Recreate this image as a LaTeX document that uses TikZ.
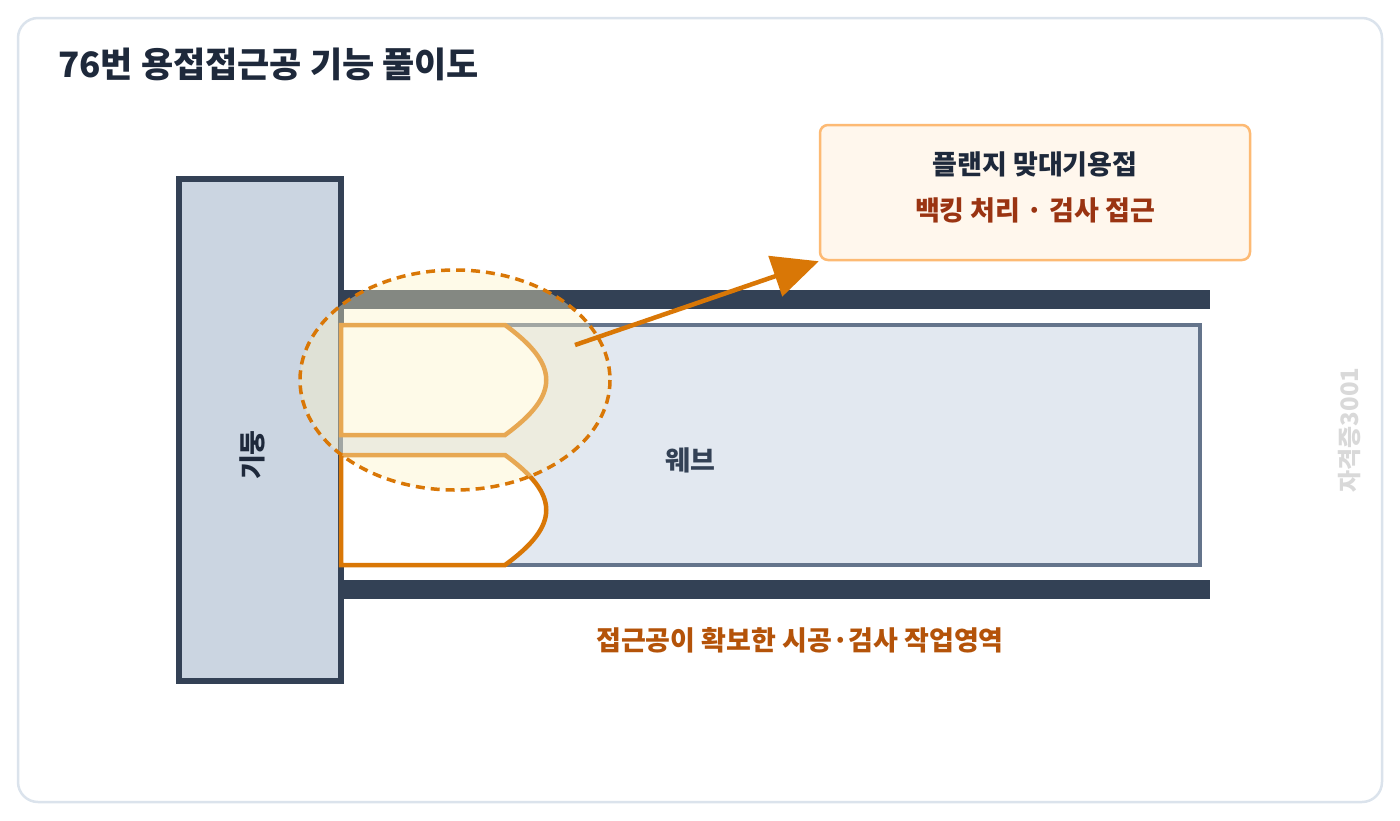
\documentclass[tikz,border=0pt]{standalone}
\usepackage{fontspec}
\setmainfont{Noto Sans CJK KR}
\usetikzlibrary{arrows.meta}
\definecolor{navy}{HTML}{334155}
\definecolor{org}{HTML}{D97706}
\definecolor{webf}{HTML}{E2E8F0}
\definecolor{webd}{HTML}{64748B}
\definecolor{ovl}{HTML}{FEF3C7}
\definecolor{boxd}{HTML}{FDBA74}
\definecolor{boxf}{HTML}{FFF7ED}
\definecolor{brn}{HTML}{9A3412}
\definecolor{capc}{HTML}{B45309}
\definecolor{frame}{HTML}{DBE3EC}
\definecolor{colf}{HTML}{CBD5E1}
\definecolor{ttl}{HTML}{1E293B}
\begin{document}
\begin{tikzpicture}[x=1pt,y=-1pt,font=\bfseries,
  hole/.style={draw=org,line width=4.5pt,fill=white,line join=miter},
  lbl/.style={inner sep=0pt,anchor=center}]
\useasboundingbox (0,0) rectangle (1400,820);
\draw[draw=frame, line width=2.5pt, rounded corners=20pt,fill=white] (18,18) rectangle (1382,802);
\node[lbl,anchor=west,font=\bfseries\fontsize{35}{40}\selectfont,text=ttl] (title) at (58,64) {76번 용접접근공 기능 풀이도};
\draw[navy,line width=5.5pt,fill=colf] (179,179) rectangle (341,681);
\fill[navy] (341,290) rectangle (1210,309);
\fill[navy] (341,580) rectangle (1210,599);
\draw[fill=webf, draw=webd, line width=3.5pt] (341,325) rectangle (1200,565);
\draw[hole] (341,325) -- (505,325) .. controls (560,365) and (560,395) .. (505,435) -- (341,435) -- cycle;
\draw[hole] (341,455) -- (505,455) .. controls (560,495) and (560,525) .. (505,565) -- (341,565) -- cycle;
\node[lbl,rotate=90,font=\bfseries\fontsize{27}{30}\selectfont,text=ttl] (col) at (252,455) {기둥};
\node[lbl,font=\bfseries\fontsize{27}{30}\selectfont,text=navy] (web) at (690,460) {웨브};
\fill[ovl,fill opacity=0.4] (455,380) ellipse [x radius=155,y radius=110];
\draw[org,line width=3.5pt,dash pattern=on 9pt off 6pt] (455,380) ellipse [x radius=155,y radius=110];
\coordinate (a0) at (575,345);
\node[draw=boxd,fill=boxf,line width=2.5pt,rounded corners=8pt,minimum width=430pt,minimum height=135pt] (box) at (1035,192.5) {};
\node[lbl,font=\bfseries\fontsize{27}{30}\selectfont,text=ttl] (t1) at (1035,164) {플랜지 맞대기용접};
\node[lbl,font=\bfseries\fontsize{27}{30}\selectfont,text=brn] (t2) at (1035,210) {백킹 처리 · 검사 접근};
\draw[org,line width=4.5pt,-{Triangle[length=46pt,width=42pt]}] (a0) -- (box.south west);
\node[lbl,font=\bfseries\fontsize{27}{30}\selectfont,text=capc] (cap) at (800,640) {접근공이 확보한 시공·검사 작업영역};
\node[lbl,rotate=90,font=\bfseries\fontsize{24}{28}\selectfont,text=gray!30] (wm) at (1350,430) {자격증3001};
\end{tikzpicture}
\end{document}
